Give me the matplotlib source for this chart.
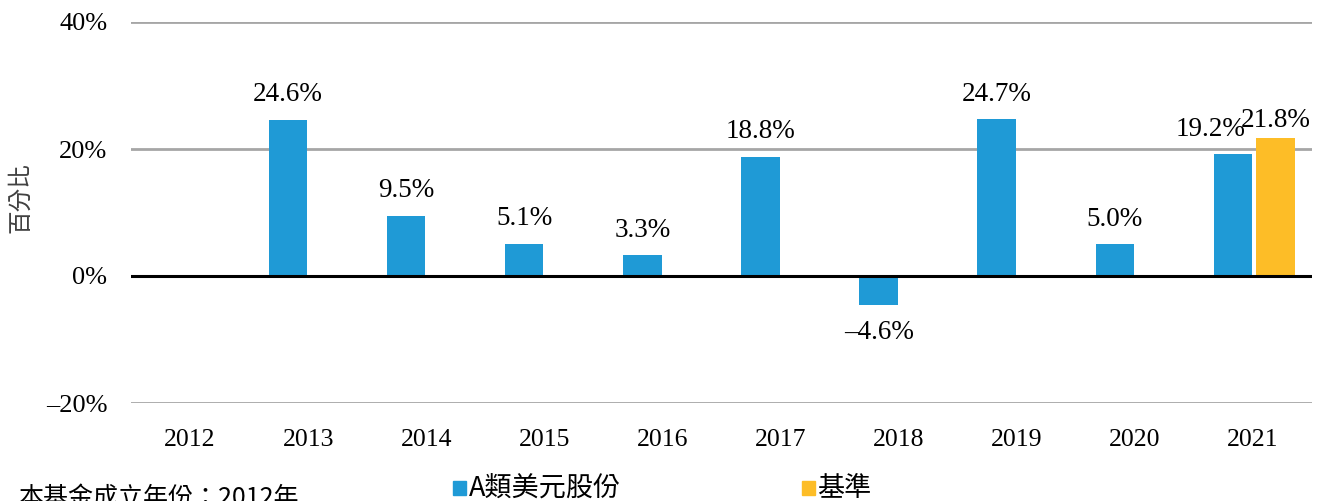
import numpy as np
import matplotlib.pyplot as plt

years = ['2012', '2013', '2014', '2015', '2016', '2017', '2018', '2019', '2020', '2021']
fund_values = [np.nan, 24.6, 9.5, 5.1, 3.3, 18.8, -4.6, 24.7, 5.0, 19.2]
bench_values = [np.nan] * 9 + [21.8]
y_ticks = [-20, 0, 20, 40]

BLUE = '#1F9AD6'
YELLOW = '#FDBD27'
SERIF = ['Liberation Serif', 'DejaVu Serif']
CJK = ['Noto Sans CJK TC', 'DejaVu Sans']


def pct(v):
    s = '%.1f%%' % abs(v)
    return ('\u2013' + s) if v < 0 else s


fig = plt.figure(figsize=(13.27, 5.01), dpi=100)
ax = fig.add_axes([131 / 1327, 98 / 501, 1181 / 1327, 381 / 501])

x = np.arange(len(years))
w = 0.325
ax.bar(x - 0.17, fund_values, w, color=BLUE, zorder=3)
ax.bar(x + 0.19, bench_values, w, color=YELLOW, zorder=3)

for i, v in enumerate(fund_values):
    if np.isnan(v):
        continue
    dxpt = 0
    if not np.isnan(bench_values[i]):
        dxpt = -16
    if v >= 0:
        ax.annotate(pct(v), (x[i] - 0.17, v), xytext=(dxpt, 9), textcoords='offset points',
                    ha='center', va='bottom', fontsize=19.5, family=SERIF)
    else:
        ax.annotate(pct(v), (x[i] - 0.17, v), xytext=(dxpt, -11), textcoords='offset points',
                    ha='center', va='top', fontsize=19.5, family=SERIF)

for i, v in enumerate(bench_values):
    if np.isnan(v):
        continue
    ax.annotate(pct(v), (x[i] + 0.19, v), xytext=(0, 3), textcoords='offset points',
                ha='center', va='bottom', fontsize=19.5, family=SERIF)

ax.set_xlim(-0.5, len(years) - 0.5)
ax.set_ylim(-20, 40)
ax.set_yticks(y_ticks)
ax.set_yticklabels([pct(t).replace('.0', '') for t in y_ticks], family=SERIF, fontsize=19)
ax.set_xticks(x)
ax.set_xticklabels(years, family=SERIF, fontsize=18.5)
ax.tick_params(axis='x', length=0, pad=19)
ax.tick_params(axis='y', length=0, pad=17)
for s in ax.spines.values():
    s.set_visible(False)
for t in y_ticks:
    if t == 0:
        ax.axhline(0, color='black', lw=2.2, zorder=4)
    else:
        ax.axhline(t, color='#A6A6A6', lw=2, zorder=1)

fig.text(21 / 1327, (501 - 198) / 501, '百分比', family=CJK, fontsize=17, color='#404040',
         rotation=90, ha='center', va='center')

# legend
fig.patches.append(plt.Rectangle((453 / 1327, 6 / 501), 13 / 1327, 14 / 501,
                                 transform=fig.transFigure, color=BLUE))
fig.text(469 / 1327, 12 / 501, 'A類美元股份', family=CJK, fontsize=19.5, va='center', ha='left')
fig.patches.append(plt.Rectangle((802 / 1327, 6 / 501), 13 / 1327, 14 / 501,
                                 transform=fig.transFigure, color=YELLOW))
fig.text(817 / 1327, 12 / 501, '基準', family=CJK, fontsize=19.5, va='center', ha='left')

fig.text(18 / 1327, -10 / 501, '本基金成立年份：2012年', family=CJK, fontsize=18, va='bottom', ha='left')

fig.savefig('out.png', dpi=100)
